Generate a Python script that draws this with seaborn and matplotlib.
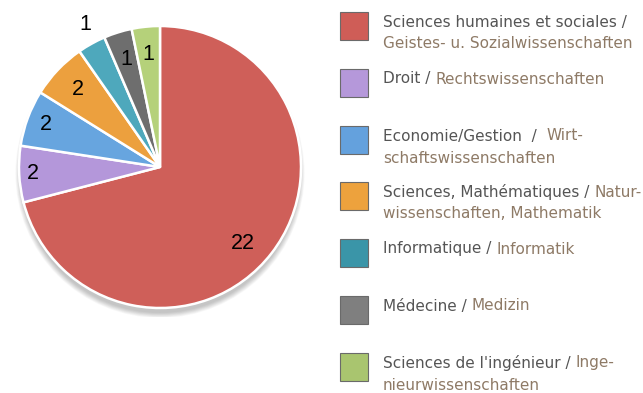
import numpy as np
import matplotlib
matplotlib.use("Agg")
import matplotlib.pyplot as plt
from matplotlib.patches import Rectangle, Circle
import seaborn as sns

# Number of projects per discipline
disciplines = ["Sciences humaines et sociales", "Droit", "Economie/Gestion",
               "Sciences, Mathématiques", "Informatique", "Médecine",
               "Sciences de l'ingénieur"]
counts = [22, 2, 2, 2, 1, 1, 1]

pie_colors = ["#CF5F59", "#B497DA", "#67A5DF", "#ECA03E", "#4EA8BC", "#6E6E6E", "#B5D17A"]
legend_colors = ["#CF5D57", "#B598DA", "#64A1DD", "#EDA23D", "#3A95A8", "#7F7F7F", "#A9C56F"]

# value label placement: fraction of the radius and angular nudge (degrees)
label_radius = [0.80, 0.90, 0.86, 0.80, 1.14, 0.80, 0.80]
label_nudge = [-5.0, 0.0, 0.0, 0.0, -1.5, 0.0, 0.0]

FR = "#555555"
DE = "#8E7A66"
# legend text, line by line, with (text, colour) segments
legend_lines = [
    [[("Sciences humaines et sociales /", FR)],
     [("Geistes- u. Sozialwissenschaften", DE)]],
    [[("Droit / ", FR), ("Rechtswissenschaften", DE)]],
    [[("Economie/Gestion  /  ", FR), ("Wirt-", DE)],
     [("schaftswissenschaften", DE)]],
    [[("Sciences, Mathématiques / ", FR), ("Natur-", DE)],
     [("wissenschaften, Mathematik", DE)]],
    [[("Informatique / ", FR), ("Informatik", DE)]],
    [[("Médecine / ", FR), ("Medizin", DE)]],
    [[("Sciences de l'ingénieur / ", FR), ("Inge-", DE)],
     [("nieurwissenschaften", DE)]],
]

sns.set_theme(style="white")
plt.rcParams["font.family"] = ["DejaVu Sans"]

W, H = 643, 393
fig = plt.figure(figsize=(W / 100, H / 100), dpi=100)
fig.patch.set_facecolor("white")

# pie axes: centre at (160, 167) px, radius 141 px
cx, cy, r = 160, 167, 141
half = 150
ax = fig.add_axes([(cx - half) / W, (H - cy - half) / H, 2 * half / W, 2 * half / H])

# soft drop shadow under the pie
for k in range(10):
    ax.add_patch(Circle((0, -0.045), 0.99 + 0.004 * k, color="black",
                        alpha=0.025, lw=0, zorder=0))

palette = sns.color_palette(pie_colors)
wedges, _ = ax.pie(counts, colors=palette, startangle=90, counterclock=False,
                   radius=1.0, wedgeprops=dict(edgecolor="white", linewidth=1.8),
                   normalize=True)
for w in wedges:
    w.set_zorder(2)

lim = half / r
ax.set_xlim(-lim, lim)
ax.set_ylim(-lim, lim)
ax.set_aspect("equal")
ax.axis("off")

for w, val, rf, dn in zip(wedges, counts, label_radius, label_nudge):
    mid = np.deg2rad((w.theta1 + w.theta2) / 2 + dn)
    ax.text(rf * np.cos(mid), rf * np.sin(mid), str(val), ha="center", va="center",
            fontsize=15.5, color="black", family="Liberation Sans", zorder=3)

# legend
square_centers = [26, 83, 140, 196, 253, 310, 367]
sq = 28
fs = 11.0
for col, yc, lines in zip(legend_colors, square_centers, legend_lines):
    fig.add_artist(Rectangle((340 / W, (H - yc - sq / 2) / H), sq / W, sq / H,
                             transform=fig.transFigure, facecolor=col,
                             edgecolor="#6a6a6a", linewidth=0.8))
    for i, segs in enumerate(lines):
        ytxt = yc - 4 + 22 * i
        prev = None
        for txt, c in segs:
            if prev is None:
                prev = fig.text(383 / W, (H - ytxt) / H, txt, color=c, fontsize=fs,
                                ha="left", va="center")
            else:
                fig.canvas.draw()
                bb = prev.get_window_extent()
                prev = fig.text(bb.x1 / W, (H - ytxt) / H, txt, color=c, fontsize=fs,
                                ha="left", va="center")

fig.savefig("out.png", dpi=100, facecolor="white")
